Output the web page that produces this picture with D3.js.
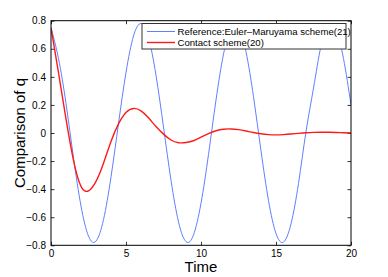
<!DOCTYPE html>
<html><head><meta charset="utf-8">
<script src="https://cdn.jsdelivr.net/npm/d3@7"></script>
<style>body{margin:0;background:#fff}svg{display:block}text{font-family:"Liberation Sans",Arial,sans-serif}</style>
</head><body>
<svg id="c" width="388" height="277"></svg>
<script>
const time = [0,0.5,1,1.5,2,2.5,3,3.5,4,4.5,5,5.5,6,6.5,7,7.5,8,8.5,9,9.5,10,10.5,11,11.5,12,12.5,13,13.5,14,14.5,15,15.5,16,16.5,17,17.5,18,18.5,19,19.5,20];
const eulerMaruyama = [0.75,0.53,0.21,-0.177,-0.52,-0.735,-0.77,-0.617,-0.313,0.068,0.432,0.691,0.78,0.678,0.411,0.042,-0.337,-0.633,-0.774,-0.726,-0.5,-0.153,0.235,0.562,0.753,0.759,0.579,0.258,-0.127,-0.481,-0.716,-0.777,-0.647,-0.359,0.01,0.32,0.621,0.771,0.733,0.53,0.2];
const contact = [0.75,0.43,0.10,-0.195,-0.38,-0.412,-0.345,-0.215,-0.06,0.065,0.146,0.175,0.158,0.108,0.046,-0.008,-0.05,-0.069,-0.068,-0.055,-0.03,-0.004,0.016,0.027,0.029,0.024,0.0143,0.0033,-0.0058,-0.0114,-0.013,-0.0113,-0.0073,-0.0027,0.0015,0.0043,0.0055,0.005,0.0036,0.0017,0.0];
const xTicks = [0,5,10,15,20];
const yTicks = [-0.8,-0.6,-0.4,-0.2,0,0.2,0.4,0.6,0.8];
const seriesNames = ["Reference:Euler\u2013Maruyama scheme(21)","Contact scheme(20)"];
const seriesColors = ["#5f7fff","#ff1a1a"];

const svg = d3.select("#c");
const L=51,R=351,T=20.7,B=245.3;
const x = d3.scaleLinear().domain([0,20]).range([L,R]);
const y = d3.scaleLinear().domain([-0.8,0.8]).range([B,T]);
const fmt = d => d===0?"0":(d<0?"\u2212":"")+Math.abs(d).toString();

svg.append("clipPath").attr("id","pc").append("rect").attr("x",L).attr("y",T-1).attr("width",R-L).attr("height",B-T+2);

const ax = svg.append("g").attr("font-size",9.5);
ax.append("g").attr("transform",`translate(0,${B})`).call(d3.axisBottom(x).tickValues(xTicks).tickSize(-3.5).tickPadding(5).tickFormat(d3.format("d")));
ax.append("g").attr("transform",`translate(0,${T})`).call(d3.axisTop(x).tickValues(xTicks).tickSize(-3.5).tickFormat(""));
ax.append("g").attr("transform",`translate(${L},0)`).call(d3.axisLeft(y).tickValues(yTicks).tickSize(-3.5).tickPadding(5).tickFormat(fmt));
ax.append("g").attr("transform",`translate(${R},0)`).call(d3.axisRight(y).tickValues(yTicks).tickSize(-3.5).tickFormat(""));
ax.selectAll(".domain").remove();
ax.selectAll("line").attr("stroke","#000").attr("stroke-width",0.8);
ax.selectAll("text").attr("fill","#000").attr("font-family","'Liberation Sans',Arial,sans-serif");

const line = vals => d3.line().x((d,i)=>x(time[i])).y(d=>y(d)).curve(d3.curveNatural)(vals);
const g = svg.append("g").attr("clip-path","url(#pc)");
g.append("path").attr("d",line(eulerMaruyama)).attr("fill","none").attr("stroke",seriesColors[0]).attr("stroke-width",1);
g.append("path").attr("d",line(contact)).attr("fill","none").attr("stroke",seriesColors[1]).attr("stroke-width",1.4);

svg.append("rect").attr("x",L).attr("y",T).attr("width",R-L).attr("height",B-T).attr("fill","none").attr("stroke","#000").attr("stroke-width",1);

const lg = svg.append("g");
lg.append("rect").attr("x",142).attr("y",23.5).attr("width",204).attr("height",25.5).attr("fill","#fff").attr("stroke","#333").attr("stroke-width",1);
seriesNames.forEach((n,i)=>{
  const yy = 31.5 + i*11;
  lg.append("line").attr("x1",147).attr("x2",175).attr("y1",yy).attr("y2",yy).attr("stroke",seriesColors[i]).attr("stroke-width",i?1.4:1);
  lg.append("text").attr("x",177.5).attr("y",yy+3.5).attr("font-size",9.6).attr("fill","#000").text(n);
});

svg.append("text").attr("x",201).attr("y",272).attr("text-anchor","middle").attr("font-size",15).text("Time");
svg.append("text").attr("transform","translate(25,133) rotate(-90)").attr("text-anchor","middle").attr("font-size",15).text("Comparison of q");
</script>
</body></html>
